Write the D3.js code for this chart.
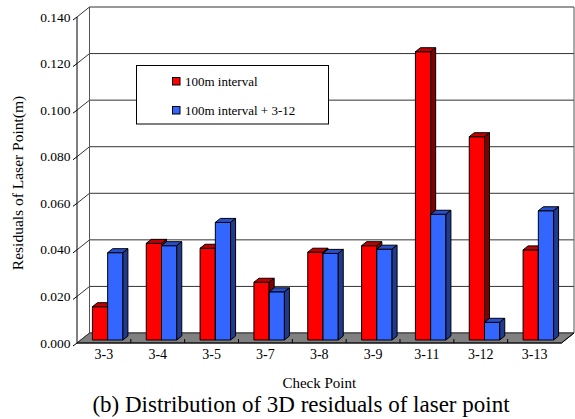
<!DOCTYPE html>
<html><head><meta charset="utf-8">
<script src="https://cdn.jsdelivr.net/npm/d3@7"></script>
<style>
html,body{margin:0;padding:0;background:#fff;}
</style>
</head><body>
<svg id="chart" width="575" height="419" font-family="Liberation Serif"></svg>
<script>
const categories = ["3-3","3-4","3-5","3-7","3-8","3-9","3-11","3-12","3-13"];
const seriesNames = ["100m interval","100m interval + 3-12"];
const redValues  = [0.0143,0.0415,0.0394,0.0248,0.0377,0.0405,0.1238,0.0873,0.0387];
const blueValues = [0.0375,0.0405,0.0505,0.0207,0.0372,0.0390,0.0540,0.0076,0.0555];
const yTicks = [0,0.02,0.04,0.06,0.08,0.10,0.12,0.14];
const seriesColors = [
  {front:"#FF0000", top:"#C00000", side:"#800000"},
  {front:"#3366FF", top:"#2850CC", side:"#1F3A8F"}
];
const FONT = "Liberation Serif";

const svg = d3.select("#chart");
const x0 = 77, x1 = 561.5, yBase = 343, yTop = 17;
const D = [12.5, -10];
const barFront = 0.3, barBack = 0.7;

const x = d3.scaleBand().domain(categories).range([x0, x1]).padding(0);
const y = d3.scaleLinear().domain([0, 0.14]).range([yBase, yTop]);
const xs = d3.scaleBand().domain(seriesNames).range([0, 30.5]);
const bw = x.bandwidth();

const line = (pts) => "M" + pts.map(p => p.join(",")).join("L") + "Z";
const txt = (sel) => sel.append("text").attr("font-family", FONT).attr("fill", "#000");

const g = svg.append("g");
yTicks.forEach(v => {
  const yb = y(v) + D[1];
  g.append("line").attr("x1", x0 + D[0]).attr("x2", x1 + D[0]).attr("y1", yb).attr("y2", yb)
    .attr("stroke", "#333").attr("stroke-width", 1);
  g.append("line").attr("x1", x0).attr("y1", y(v)).attr("x2", x0 + D[0]).attr("y2", yb)
    .attr("stroke", "#333").attr("stroke-width", 1);
  g.append("line").attr("x1", x0).attr("y1", y(v)).attr("x2", x0 - 4).attr("y2", y(v) + 3)
    .attr("stroke", "#000").attr("stroke-width", 1);
  txt(g).attr("x", 70.5).attr("y", y(v) + 4.5).attr("text-anchor", "end")
    .attr("font-size", 13.5).text(v.toFixed(3));
});
g.append("line").attr("x1", x0 + D[0]).attr("x2", x0 + D[0]).attr("y1", y(0.14) + D[1]).attr("y2", y(0) + D[1])
  .attr("stroke", "#555");
g.append("line").attr("x1", x1 + D[0]).attr("x2", x1 + D[0]).attr("y1", y(0.14) + D[1]).attr("y2", y(0) + D[1])
  .attr("stroke", "#555");

g.append("path").attr("d", line([[x0, yBase],[x1, yBase],[x1 + D[0], yBase + D[1]],[x0 + D[0], yBase + D[1]]]))
  .attr("fill", "#808080").attr("stroke", "#333").attr("stroke-width", 1);
categories.forEach((c, i) => {
  if (i > 0) g.append("line").attr("x1", x(c)).attr("x2", x(c)).attr("y1", yBase).attr("y2", yBase - 4)
    .attr("stroke", "#000");
  txt(g).attr("x", x(c) + bw / 2).attr("y", 359).attr("text-anchor", "middle")
    .attr("font-size", 14).text(c);
});
g.append("line").attr("x1", x0).attr("x2", x0).attr("y1", yTop).attr("y2", yBase).attr("stroke", "#000");
g.append("line").attr("x1", x0).attr("x2", x1).attr("y1", yBase).attr("y2", yBase).attr("stroke", "#000");
g.append("line").attr("x1", x1).attr("x2", x1 + D[0]).attr("y1", yBase).attr("y2", yBase + D[1]).attr("stroke", "#000");

const fo = [D[0] * barFront, D[1] * barFront];
const dd = [D[0] * (barBack - barFront), D[1] * (barBack - barFront)];
const bars = svg.append("g");
categories.forEach((c, i) => {
  [redValues[i], blueValues[i]].forEach((v, s) => {
    const col = seriesColors[s];
    const L = x(c) + (bw - 30.5) / 2 + xs(seriesNames[s]) + fo[0];
    const R = L + xs.bandwidth();
    const B = y(0) + fo[1], T = y(v) + fo[1];
    const bg = bars.append("g").attr("stroke", "#000").attr("stroke-width", 1).attr("stroke-linejoin", "round");
    bg.append("path").attr("d", line([[L, B],[R, B],[R, T],[L, T]])).attr("fill", col.front);
    bg.append("path").attr("d", line([[L, T],[R, T],[R + dd[0], T + dd[1]],[L + dd[0], T + dd[1]]])).attr("fill", col.top);
    bg.append("path").attr("d", line([[R, B],[R + dd[0], B + dd[1]],[R + dd[0], T + dd[1]],[R, T]])).attr("fill", col.side);
  });
});

const lg = svg.append("g");
lg.append("rect").attr("x", 136.5).attr("y", 65.5).attr("width", 192).attr("height", 58.5)
  .attr("fill", "#fff").attr("stroke", "#000").attr("stroke-width", 1);
seriesNames.forEach((n, i) => {
  const yy = i === 0 ? 77.5 : 106.5;
  lg.append("rect").attr("x", 172.5).attr("y", yy).attr("width", 7.5).attr("height", 7.5)
    .attr("fill", seriesColors[i].front).attr("stroke", "#000").attr("stroke-width", 1);
  txt(lg).attr("x", 185).attr("y", yy + 8.8).attr("font-size", 13).text(n);
});

txt(svg).attr("x", (x0 + x1) / 2).attr("y", 388).attr("text-anchor", "middle")
  .attr("font-size", 15).text("Check Point");
txt(svg).attr("transform", "translate(23,183) rotate(-90)").attr("text-anchor", "middle")
  .attr("font-size", 15.5).text("Residuals of Laser Point(m)");
txt(svg).attr("x", 301).attr("y", 412).attr("text-anchor", "middle")
  .attr("font-size", 23).text("(b) Distribution of 3D residuals of laser point");
</script>
</body></html>
